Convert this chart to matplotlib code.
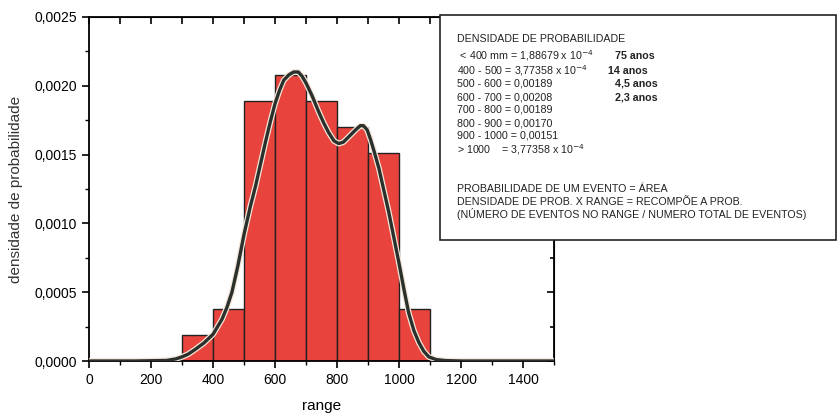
import numpy as np
import matplotlib
matplotlib.use('Agg')
import matplotlib.pyplot as plt
from matplotlib.ticker import MultipleLocator, FuncFormatter
from matplotlib.patches import Rectangle

plt.rcParams['font.family'] = ['Liberation Sans', 'DejaVu Sans']

# histogram classes (mm) and density values
bin_left = [300, 400, 500, 600, 700, 800, 900, 1000]
bin_width = 100
density = [1.88679e-4, 3.77358e-4, 0.00189, 0.00208, 0.00189, 0.00170, 0.00151, 3.77358e-4]

# fitted smooth curve
curve_x = [0, 150, 250, 280, 300, 320, 343, 370, 400, 429, 445, 461, 480, 500, 520, 537,
           553, 569, 585, 600, 615, 628, 645, 660, 675, 687, 700, 719, 741, 757, 773, 790,
           805, 820, 838, 860, 875, 885, 897, 908, 920, 935, 950, 967, 983, 999, 1015,
           1031, 1048, 1064, 1080, 1096, 1120, 1150, 1200, 1500]
curve_y = [0, 0, 0.000004, 0.000015, 0.00003, 0.00005, 0.000085, 0.00013, 0.000194,
           0.000304, 0.00039, 0.0005, 0.00069, 0.00092, 0.00112, 0.00127, 0.00143, 0.00159,
           0.00174, 0.00187, 0.00197, 0.00204, 0.00208, 0.0021, 0.0021, 0.00207, 0.00202,
           0.00193, 0.00181, 0.00173, 0.00166, 0.0016, 0.00158, 0.00159, 0.00163, 0.00168,
           0.00171, 0.00171, 0.00168, 0.00161, 0.00152, 0.0014, 0.00125, 0.00108, 0.0009,
           0.00072, 0.00053, 0.00035, 0.00022, 0.000134, 0.00007, 0.00003, 0.00001,
           0.000003, 0, 0]

fig = plt.figure(figsize=(8.38, 4.16), dpi=100)
ax = fig.add_axes([0.1062, 0.1322, 0.555, 0.827])

ax.bar(bin_left, density, width=bin_width, align='edge', color='#E8433D',
       edgecolor='#222222', linewidth=1.0, zorder=2)
ax.plot(curve_x, curve_y, color='#f4e6d8', linewidth=4.2, zorder=3,
        solid_capstyle='round', solid_joinstyle='round')
ax.plot(curve_x, curve_y, color='#2a302c', linewidth=2.4, zorder=4,
        solid_capstyle='round', solid_joinstyle='round')

ax.set_xlim(0, 1500)
ax.set_ylim(0, 0.0025)
ax.xaxis.set_major_locator(MultipleLocator(200))
ax.xaxis.set_minor_locator(MultipleLocator(100))
ax.yaxis.set_major_locator(MultipleLocator(0.0005))
ax.yaxis.set_minor_locator(MultipleLocator(0.00025))
ax.xaxis.set_major_formatter(FuncFormatter(lambda v, p: '%d' % v if v <= 1400 else ''))
ax.yaxis.set_major_formatter(FuncFormatter(lambda v, p: ('%.4f' % v).replace('.', ',')))
ax.tick_params(axis='both', which='both', direction='out', labelsize=10)
ax.tick_params(axis='both', which='major', length=5, width=1.2)
ax.tick_params(axis='both', which='minor', length=3, width=1.0)
# top and right ticks point inwards
sx = ax.secondary_xaxis('top')
sx.set_xticks(range(0, 1501, 100))
sx.tick_params(direction='in', labeltop=False, length=5, width=1.2)
sy = ax.secondary_yaxis('right')
sy.yaxis.set_major_locator(MultipleLocator(0.0005))
sy.yaxis.set_minor_locator(MultipleLocator(0.00025))
sy.tick_params(which='both', direction='in', labelright=False, length=5, width=1.2)
sy.tick_params(which='minor', length=3)
for s in ax.spines.values():
    s.set_linewidth(1.3)

ax.set_xlabel('range', fontsize=11, labelpad=9)
ax.set_ylabel('densidade de probabilidade', fontsize=11, color='#333333', labelpad=8)

# text box on the right
W, H = 838, 416
fig.patches.append(Rectangle((440 / W, 1 - 240 / H), 396 / W, 225 / H, transform=fig.transFigure,
                             facecolor='white', edgecolor='#222222', linewidth=1.2, zorder=10))

fs = 7.7
tx = 457 / W
lines = [
    (39, 'DENSIDADE DE PROBABILIDADE'),
    (56, ' < 400 mm = 1,88679 x 10$^{-4}$'),
    (71, '400 - 500 = 3,77358 x 10$^{-4}$'),
    (84, '500 - 600 = 0,00189'),
    (97, '600 - 700 = 0,00208'),
    (110, '700 - 800 = 0,00189'),
    (123, '800 - 900 = 0,00170'),
    (136, '900 - 1000 = 0,00151'),
    (150, '> 1000    = 3,77358 x 10$^{-4}$'),
    (189, 'PROBABILIDADE DE UM EVENTO = ÁREA'),
    (202, 'DENSIDADE DE PROB. X RANGE = RECOMPÕE A PROB.'),
    (214, '(NÚMERO DE EVENTOS NO RANGE / NUMERO TOTAL DE EVENTOS)'),
]
for py, s in lines:
    fig.text(tx, 1 - py / H, s, fontsize=fs, va='center', ha='left', color='#222222', zorder=11)

anos = [(56, 615, '75 anos'), (71, 608, '14 anos'), (84, 615, '4,5 anos'), (97, 615, '2,3 anos')]
for py, px, s in anos:
    fig.text(px / W, 1 - py / H, s, fontsize=fs, va='center', ha='left', color='#222222',
             fontweight='bold', zorder=11)

fig.savefig('out.png', dpi=100)
